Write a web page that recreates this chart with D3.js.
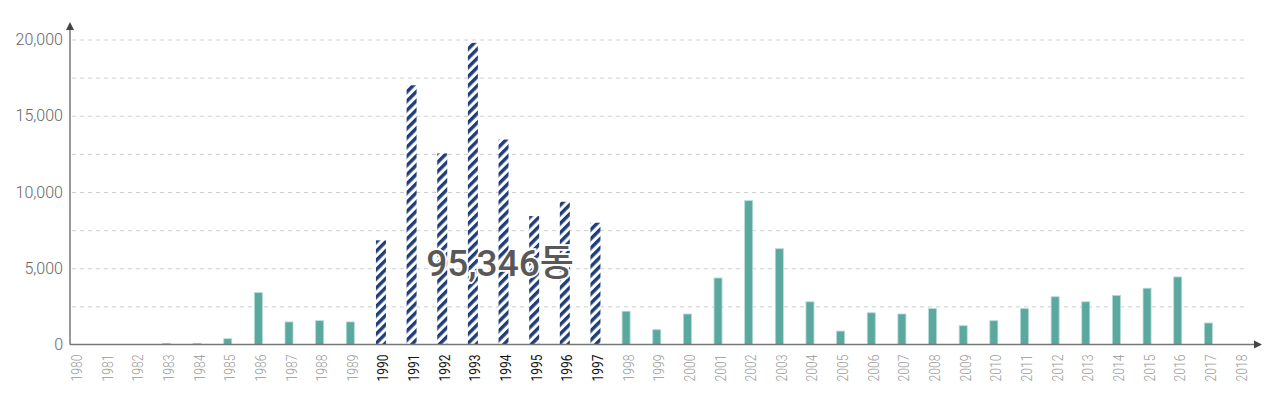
<!DOCTYPE html>
<html>
<head>
<meta charset="utf-8">
<script src="https://cdn.jsdelivr.net/npm/d3@7"></script>
<style>
  body { margin: 0; background: #fff; }
  svg { display: block; font-family: Roboto, "Noto Sans CJK KR", sans-serif; }
</style>
</head>
<body>
<div id="chart"></div>
<script>
// yearly counts (동)
const years = d3.range(1980, 2019).map(String);
const counts = [0, 0, 0, 80, 80, 380, 3400, 1480, 1560, 1480,
                6830, 17000, 12530, 19780, 13440, 8420, 9360, 7986,
                2180, 970, 2000, 4360, 9430, 6280, 2800, 880, 2080, 2000, 2350,
                1230, 1560, 2350, 3130, 2800, 3220, 3690, 4430, 1410, 0];
const highlightYears = ['1990', '1991', '1992', '1993', '1994', '1995', '1996', '1997'];
const yTicks = [0, 5000, 10000, 15000, 20000];
const gridTicks = [2500, 5000, 7500, 10000, 12500, 15000, 17500, 20000];
const totalLabel = '95,346동';

const w = 1280, h = 398;
const axis_x = 70, base_y = 344.5;

const dataset = years.map((y, i) => ({year: y, value: counts[i], hi: highlightYears.includes(y)}));

const svg = d3.select('#chart').append('svg')
  .attr('width', w)
  .attr('height', h);

// stripes for 1990-1997
const defs = svg.append('defs');
const pat = defs.append('pattern')
  .attr('id', 'hatch')
  .attr('patternUnits', 'userSpaceOnUse')
  .attr('width', 6.5)
  .attr('height', 6.5)
  .attr('patternTransform', 'rotate(45)');
pat.append('rect').attr('width', 6.5).attr('height', 6.5).attr('fill', '#fff');
pat.append('rect').attr('width', 3.4).attr('height', 6.5).attr('fill', '#1f3d78');

const xScale = d3.scalePoint()
  .domain(years)
  .range([74.5, 1239]);
const yScale = d3.scaleLinear()
  .domain([0, 20000])
  .range([base_y, 39.5]);

// grid
const grid = svg.append('g')
  .attr('transform', 'translate(72,0)')
  .call(d3.axisLeft(yScale).tickValues(gridTicks).tickSize(-1175).tickFormat(''));
grid.select('.domain').remove();
grid.selectAll('line')
  .attr('stroke', '#cfcfcf')
  .attr('stroke-dasharray', '4,4');

// y labels
const yAxis = svg.append('g')
  .attr('transform', 'translate(' + axis_x + ',0)')
  .call(d3.axisLeft(yScale).tickValues(yTicks).tickSize(0).tickPadding(7).tickFormat(d3.format(',')));
yAxis.select('.domain').remove();
yAxis.selectAll('text')
  .attr('font-family', 'Roboto, sans-serif')
  .attr('font-size', 16)
  .attr('font-weight', 300)
  .attr('fill', '#666');

// bars
const teal = dataset.filter(d => !d.hi && d.value > 0);
svg.selectAll('rect.bar')
  .data(teal)
  .enter()
  .append('rect')
  .attr('class', 'bar')
  .attr('x', d => xScale(d.year) - 4)
  .attr('y', d => yScale(d.value))
  .attr('width', 8)
  .attr('height', d => base_y - yScale(d.value))
  .attr('fill', '#5aa89e')
  .attr('stroke', '#b3dbd5')
  .attr('stroke-width', 0.8);

svg.selectAll('rect.hbar')
  .data(dataset.filter(d => d.hi))
  .enter()
  .append('rect')
  .attr('class', 'hbar')
  .attr('x', d => xScale(d.year) - 5)
  .attr('y', d => yScale(d.value))
  .attr('width', 10)
  .attr('height', d => base_y - yScale(d.value))
  .attr('fill', 'url(#hatch)');

// x labels
const xAxis = svg.append('g')
  .attr('transform', 'translate(0,' + base_y + ')')
  .call(d3.axisBottom(xScale).tickSize(0).tickPadding(0));
xAxis.select('.domain').remove();
xAxis.selectAll('text')
  .attr('transform', 'rotate(-90)')
  .attr('text-anchor', 'end')
  .attr('x', -10)
  .attr('y', 0)
  .attr('dy', '7px')
  .attr('font-family', 'Roboto, sans-serif')
  .attr('font-size', 14)
  .attr('textLength', 27)
  .attr('lengthAdjust', 'spacingAndGlyphs')
  .attr('font-weight', d => highlightYears.includes(d) ? 400 : 300)
  .attr('fill', d => highlightYears.includes(d) ? '#111' : '#999');

// axes lines with arrows
svg.append('line')
  .attr('x1', axis_x).attr('y1', base_y)
  .attr('x2', axis_x).attr('y2', 28)
  .attr('stroke', '#777').attr('stroke-width', 1.5);
svg.append('path')
  .attr('d', 'M' + (axis_x - 4) + ',30 L' + axis_x + ',22 L' + (axis_x + 4) + ',30 Z')
  .attr('fill', '#444');
svg.append('line')
  .attr('x1', axis_x).attr('y1', base_y)
  .attr('x2', 1254).attr('y2', base_y)
  .attr('stroke', '#777').attr('stroke-width', 1.5);
svg.append('path')
  .attr('d', 'M1254,' + (base_y - 4) + ' L1262,' + base_y + ' L1254,' + (base_y + 4) + ' Z')
  .attr('fill', '#444');

// total label
svg.append('text')
  .text(totalLabel)
  .attr('x', 500)
  .attr('y', 276)
  .attr('text-anchor', 'middle')
  .attr('font-family', 'Roboto, "Noto Sans CJK KR", sans-serif')
  .attr('font-size', 37)
  .attr('font-weight', 500)
  .attr('fill', '#585858')
  .attr('stroke', '#fff')
  .attr('stroke-width', 3.5)
  .attr('paint-order', 'stroke');
</script>
</body>
</html>
